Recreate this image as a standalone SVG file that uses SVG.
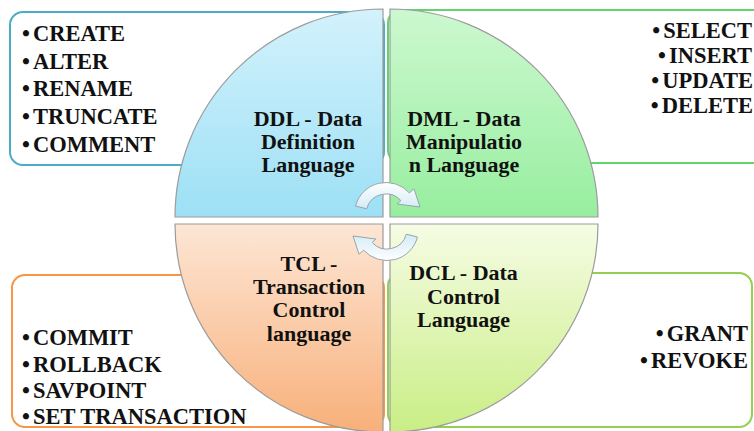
<svg xmlns="http://www.w3.org/2000/svg" width="754" height="431" viewBox="0 0 754 431">
<defs>
<linearGradient id="gDDL" x1="0" y1="0" x2="0" y2="1"><stop offset="0" stop-color="#d3f2fc"/><stop offset="1" stop-color="#9de0f5"/></linearGradient>
<linearGradient id="gDML" x1="0" y1="0" x2="0" y2="1"><stop offset="0" stop-color="#cdf8d0"/><stop offset="1" stop-color="#97ee9f"/></linearGradient>
<linearGradient id="gTCL" x1="0" y1="0" x2="0" y2="1"><stop offset="0" stop-color="#fde6d5"/><stop offset="1" stop-color="#f8b07a"/></linearGradient>
<linearGradient id="gDCL" x1="0" y1="0" x2="0" y2="1"><stop offset="0" stop-color="#f6fce4"/><stop offset="1" stop-color="#c9ee85"/></linearGradient>
<linearGradient id="gArrow" x1="0" y1="0" x2="0" y2="1"><stop offset="0" stop-color="#ffffff"/><stop offset="1" stop-color="#d3ebf6"/></linearGradient>
<style>
.box{fill:#fff;stroke-width:2}
.q{stroke:#9c9c9c;stroke-width:1.2}
.title{font-weight:bold;font-size:20px;fill:#111;text-anchor:middle}
.item{font-weight:bold;font-size:22.5px;fill:#111}
.end{text-anchor:end}
.arrow{fill:url(#gArrow);stroke:#98a4ab;stroke-width:1}
</style>
</defs>
<rect width="754" height="431" fill="#fff"/>

<g font-family="Liberation Serif, DejaVu Serif, serif">
<g id="ddl">
<rect class="box" x="10" y="12" width="374" height="153" rx="13" stroke="#4bacc6"/>
<path class="q" fill="url(#gDDL)" d="M383,217 L175,217 A208,208 0 0 1 383,9 Z"/>
<text class="title" transform="translate(308,125.5) scale(1.1,1)">DDL - Data</text>
<text class="title" transform="translate(308,148.5) scale(1.1,1)">Definition</text>
<text class="title" transform="translate(308,171.5) scale(1.1,1)">Language</text>
<text class="item" x="22" y="41">•<tspan dx="3">CREATE</tspan></text>
<text class="item" x="22" y="68.5">•<tspan dx="3">ALTER</tspan></text>
<text class="item" x="22" y="96">•<tspan dx="3">RENAME</tspan></text>
<text class="item" x="22" y="124">•<tspan dx="3">TRUNCATE</tspan></text>
<text class="item" x="22" y="151.5">•<tspan dx="3">COMMENT</tspan></text>
</g>

<g id="dml">
<rect class="box" x="388" y="10" width="390" height="153" rx="13" stroke="#62d46d"/>
<path class="q" fill="url(#gDML)" d="M390,217 L390,9 A208,208 0 0 1 598,217 Z"/>
<text class="title" transform="translate(464,125.5) scale(1.1,1)">DML - Data</text>
<text class="title" transform="translate(464,148.5) scale(1.1,1)">Manipulatio</text>
<text class="title" transform="translate(464,171.5) scale(1.1,1)">n Language</text>
<text class="item end" x="752" y="38">•<tspan dx="3">SELECT</tspan></text>
<text class="item end" x="752" y="63">•<tspan dx="3">INSERT</tspan></text>
<text class="item end" x="753" y="88">•<tspan dx="3">UPDATE</tspan></text>
<text class="item end" x="753" y="113">•<tspan dx="3">DELETE</tspan></text>
</g>

<g id="tcl">
<rect class="box" x="12" y="275" width="372" height="152" rx="13" stroke="#f79646"/>
<path class="q" fill="url(#gTCL)" d="M383,224 L383,432 A208,208 0 0 1 175,224 Z"/>
<text class="title" transform="translate(309,270.5) scale(1.1,1)">TCL -</text>
<text class="title" transform="translate(309,293.5) scale(1.1,1)">Transaction</text>
<text class="title" transform="translate(309,317) scale(1.1,1)">Control</text>
<text class="title" transform="translate(309,340.5) scale(1.1,1)">language</text>
<text class="item" x="22" y="345">•<tspan dx="3">COMMIT</tspan></text>
<text class="item" x="22" y="371.5">•<tspan dx="3">ROLLBACK</tspan></text>
<text class="item" x="22" y="397.5">•<tspan dx="3">SAVPOINT</tspan></text>
<text class="item" x="22" y="423.5">•<tspan dx="3">SET TRANSACTION</tspan></text>
</g>

<g id="dcl">
<rect class="box" x="388" y="273" width="364" height="154" rx="13" stroke="#92d050"/>
<path class="q" fill="url(#gDCL)" d="M390,224 L598,224 A208,208 0 0 1 390,432 Z"/>
<text class="title" transform="translate(463.5,280) scale(1.1,1)">DCL - Data</text>
<text class="title" transform="translate(463.5,303.5) scale(1.1,1)">Control</text>
<text class="title" transform="translate(463.5,327) scale(1.1,1)">Language</text>
<text class="item end" x="748" y="341">•<tspan dx="3">GRANT</tspan></text>
<text class="item end" x="748" y="368">•<tspan dx="3">REVOKE</tspan></text>
</g>
</g>

<g id="connectors">
<path class="arrow" d="M355.5,206 A31.5,31.5 0 0 1 409.4,192.9 L414,188.8 L420,207 L397.1,204 L400.9,200.6 A20,20 0 0 0 366.7,208.8 Z"/>
<path class="arrow" transform="rotate(180 386.5 221.5)" d="M355.5,206 A31.5,31.5 0 0 1 409.4,192.9 L414,188.8 L420,207 L397.1,204 L400.9,200.6 A20,20 0 0 0 366.7,208.8 Z"/>
</g>
</svg>
